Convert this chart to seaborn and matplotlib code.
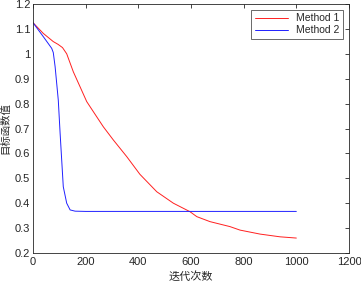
import pandas as pd
import seaborn as sns
import matplotlib.pyplot as plt

# 读图得到的数据点
iter_m1 = [0, 39, 77, 95, 112, 128, 153, 204, 242, 267, 305, 356, 406, 470, 533, 596, 622, 672, 748, 786, 862, 938, 1000]
val_m1 = [1.125, 1.082, 1.049, 1.038, 1.025, 1.000, 0.928, 0.808, 0.747, 0.707, 0.654, 0.587, 0.516, 0.446, 0.400,
          0.366, 0.346, 0.326, 0.306, 0.292, 0.276, 0.265, 0.260]
iter_m2 = [0, 39, 71, 77, 84, 96, 103, 109, 115, 128, 141, 160, 200, 400, 600, 800, 1000]
val_m2 = [1.125, 1.069, 1.022, 1.005, 0.948, 0.814, 0.680, 0.573, 0.466, 0.400, 0.373, 0.368, 0.367, 0.367,
          0.367, 0.367, 0.367]

sns.set_style('white')
plt.rcParams['font.family'] = ['Liberation Sans', 'Noto Sans CJK SC', 'DejaVu Sans']
plt.rcParams['axes.unicode_minus'] = False

df1 = pd.DataFrame({'迭代次数': iter_m1, '目标函数值': val_m1, 'method': 'Method 1'})
df2 = pd.DataFrame({'迭代次数': iter_m2, '目标函数值': val_m2, 'method': 'Method 2'})
df = pd.concat([df1, df2], ignore_index=True)

fig = plt.figure(figsize=(3.61, 2.83), dpi=100)
ax = fig.add_axes([33 / 361, 1 - 253 / 283, 316 / 361, 249 / 283])
sns.lineplot(data=df, x='迭代次数', y='目标函数值', hue='method', palette=['#ff2020', '#2020ff'],
             linewidth=0.7, ax=ax, sort=False)

ax.set_xlim(0, 1200)
ax.set_ylim(0.2, 1.2)
ax.set_xticks(range(0, 1201, 200))
ax.set_yticks([0.2, 0.3, 0.4, 0.5, 0.6, 0.7, 0.8, 0.9, 1.0, 1.1, 1.2])
ax.set_yticklabels(['0.2', '0.3', '0.4', '0.5', '0.6', '0.7', '0.8', '0.9', '1', '1.1', '1.2'])
ax.tick_params(direction='in', top=True, right=True, labelsize=8, length=3, width=0.6, colors='#262626', pad=3)
ax.tick_params(axis='y', pad=2)
for s in ax.spines.values():
    s.set_color('#262626')
    s.set_linewidth(0.6)
ax.set_xlabel('迭代次数', fontsize=8, family=['Noto Sans CJK SC'], labelpad=3)
ax.set_ylabel('目标函数值', fontsize=7.5, family=['Noto Sans CJK SC'])
ax.yaxis.set_label_coords(-0.072, 0.5)

leg = ax.legend(loc='upper right', fontsize=7.5, frameon=True, fancybox=False,
                handlelength=3.2, borderpad=0.3, labelspacing=0.2, borderaxespad=0.6)
leg.get_frame().set_edgecolor('#262626')
leg.get_frame().set_linewidth(0.6)

plt.savefig('out.png', dpi=100)
